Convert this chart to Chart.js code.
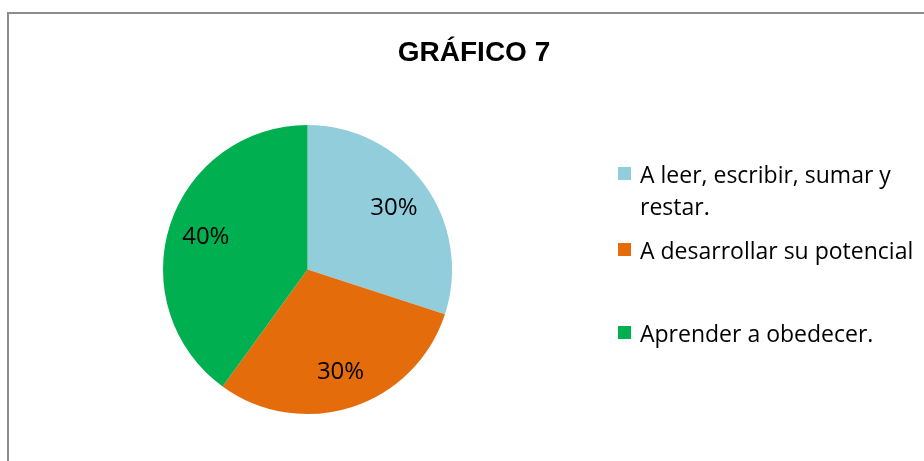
<!DOCTYPE html>
<html><head><meta charset="utf-8">
<script src="https://cdn.jsdelivr.net/npm/chart.js@4.4.0/dist/chart.umd.min.js"></script>
<style>
html,body{margin:0;padding:0;background:#fff;overflow:hidden}
#wrap{position:relative;width:924px;height:461px;overflow:hidden}
canvas{position:absolute;left:0;top:0}
#frame{position:absolute;left:7px;top:12px;right:-10px;bottom:-10px;border-left:2px solid #8c8c8c;border-top:2px solid #8c8c8c;pointer-events:none}
</style></head><body>
<div id="wrap"><canvas id="c" width="924" height="461"></canvas><div id="frame"></div></div>
<script>
const chartTitle = "GRÁFICO 7";
const categories = ["A leer, escribir, sumar y restar.", "A desarrollar su potencial", "Aprender a obedecer."];
const values = [30, 30, 40];
const colors = ["#92CDDC", "#E46C0A", "#00B050"];

const total = values.reduce((a, b) => a + b, 0);
const pctLabels = values.map(v => Math.round(v / total * 100) + "%");

const legendBaselines = [183, 259, 342];
const legendLineH = 32;
const legendTextX = 640;
const legendBoxX = 618;
const legendBox = 13;
const legendMaxW = 280;

function wrap(ctx, text, maxW) {
  const words = text.split(" ");
  const lines = [];
  let cur = "";
  words.forEach(w => {
    const t = cur ? cur + " " + w : w;
    if (ctx.measureText(t).width > maxW && cur) { lines.push(cur); cur = w; }
    else cur = t;
  });
  if (cur) lines.push(cur);
  return lines;
}

const overlay = {
  id: "overlay",
  afterDraw(chart) {
    const ctx = chart.ctx;
    ctx.save();
    ctx.fillStyle = "#000";
    ctx.textAlign = "center";
    ctx.textBaseline = "alphabetic";
    ctx.font = 'bold 28px "Liberation Sans", Arial, sans-serif';
    ctx.fillText(chartTitle, 474, 61);

    ctx.font = '24px "Open Sans", sans-serif';
    const meta = chart.getDatasetMeta(0);
    meta.data.forEach((arc, i) => {
      const p = arc.getProps(["x", "y", "startAngle", "endAngle", "outerRadius"], true);
      const mid = (p.startAngle + p.endAngle) / 2;
      const r = p.outerRadius * 0.74;
      ctx.fillText(pctLabels[i], p.x + Math.cos(mid) * r, p.y + Math.sin(mid) * r + 8);
    });

    ctx.font = '23px "Open Sans", sans-serif';
    ctx.textAlign = "left";
    chart.data.labels.forEach((lab, i) => {
      const base = legendBaselines[i];
      ctx.fillStyle = chart.data.datasets[0].backgroundColor[i];
      ctx.fillRect(legendBoxX, base - 16, legendBox, legendBox);
      ctx.fillStyle = "#000";
      wrap(ctx, lab, legendMaxW).forEach((ln, j) => {
        ctx.fillText(ln, legendTextX, base + j * legendLineH);
      });
    });
    ctx.restore();
  }
};

new Chart(document.getElementById("c"), {
  type: "pie",
  data: {
    labels: categories,
    datasets: [{ data: values, backgroundColor: colors, borderWidth: 0 }]
  },
  options: {
    responsive: false,
    animation: false,
    layout: { padding: { left: 163, right: 472, top: 125, bottom: 47 } },
    plugins: { legend: { display: false }, title: { display: false }, tooltip: { enabled: false } }
  },
  plugins: [overlay]
});
</script>
</body></html>
